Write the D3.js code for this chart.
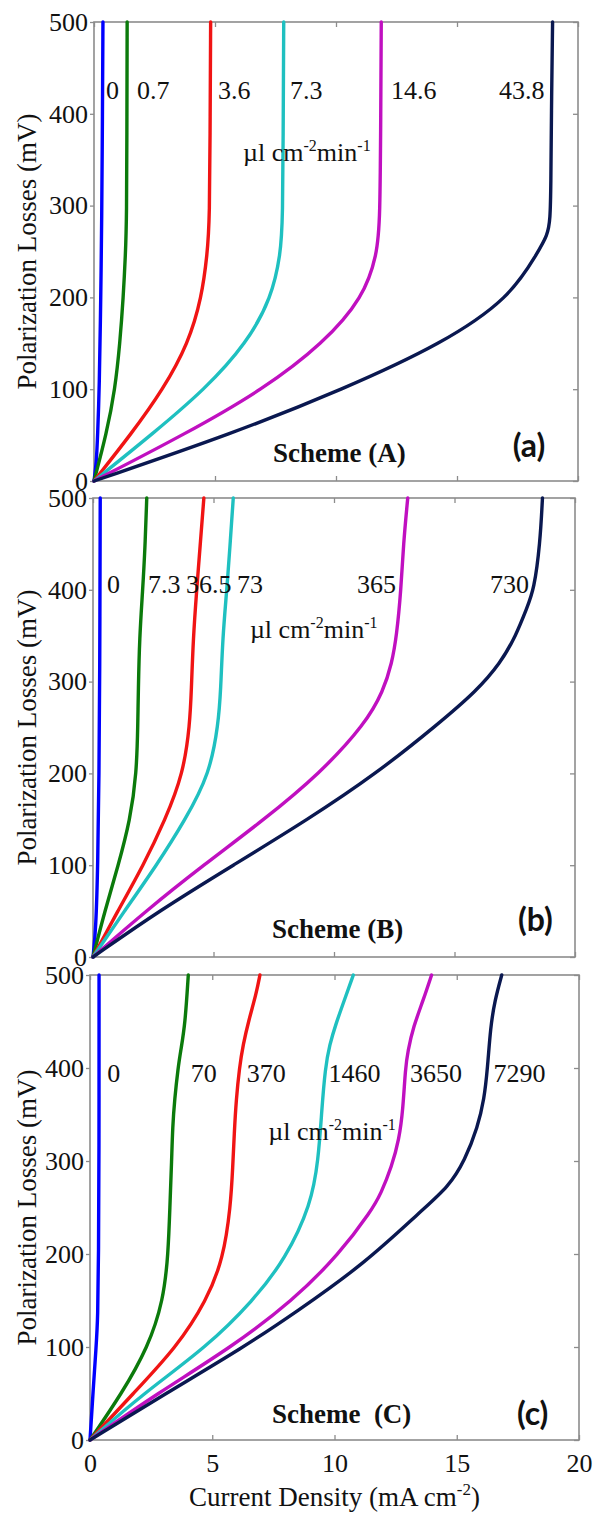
<!DOCTYPE html>
<html><head><meta charset="utf-8">
<script src="https://cdn.jsdelivr.net/npm/d3@7"></script>
<style>
body{margin:0;background:#fff}
svg{display:block}
text{font-family:"Liberation Serif","Times New Roman",serif;fill:#111}
</style>
</head><body>
<svg id="chart" width="595" height="1513"></svg>
<script>
// ---------- data ----------
const xTicks = [0, 5, 10, 15, 20];
const yTicks = [0, 100, 200, 300, 400, 500];

// each point: [current density (mA cm-2), polarization loss (mV)]
// Scheme A
const aBlue    = [[0,0],[0.1,20],[0.15,50],[0.22,100],[0.28,200],[0.32,284],[0.35,400],[0.37,500]];
const aGreen   = [[0,0],[0.52,52],[0.87,100],[1.07,150],[1.21,200],[1.3,247],[1.35,284],[1.36,400],[1.37,500]];
const aRed     = [[0,0],[1.56,52],[2.86,100],[3.9,150],[4.45,200],[4.68,247],[4.78,284],[4.8,400],[4.82,500]];
const aCyan    = [[0,0],[2.45,52],[4.59,100],[6.31,150],[7.34,200],[7.71,247],[7.8,284],[7.82,400],[7.84,500]];
const aMagenta = [[0,0],[3.83,52],[7.0,100],[9.48,150],[11.13,200],[11.7,247],[11.82,284],[11.85,400],[11.87,500]];
const aNavy    = [[0,0],[5.76,52],[10.3,100],[14.43,150],[17.19,200],[18.29,247],[18.75,268],[18.85,285],[18.88,320],[18.9,400],[18.95,500]];
// Scheme B
const bBlue    = [[0,0],[0.12,30],[0.2,100],[0.25,200],[0.28,300],[0.3,500]];
const bGreen   = [[0,0],[0.5,51],[1.05,100],[1.54,149],[1.81,200],[1.86,254],[1.88,290],[1.93,348],[2.06,399],[2.16,446],[2.23,500]];
const bRed     = [[0,0],[1.05,51],[2.09,100],[2.99,149],[3.75,200],[4.02,254],[4.08,290],[4.16,348],[4.3,399],[4.44,446],[4.6,500]];
const bCyan    = [[0,0],[1.33,51],[2.64,100],[3.82,149],[4.85,200],[5.2,254],[5.3,290],[5.38,348],[5.55,399],[5.68,446],[5.82,500]];
const bMagenta = [[0,0],[2.23,51],[4.58,100],[7.07,149],[9.42,200],[11.3,254],[12.05,290],[12.4,320],[12.6,350],[12.78,400],[12.88,450],[13.06,500]];
const bNavy    = [[0,0],[2.78,51],[5.82,100],[8.87,149],[11.77,200],[14.33,254],[15.92,290],[16.9,320],[17.55,350],[18.0,380],[18.3,400],[18.55,450],[18.65,500]];
// Scheme C
const cBlue    = [[0,0],[0.05,20],[0.12,50],[0.25,100],[0.32,130],[0.35,200],[0.37,300],[0.37,500]];
const cGreen   = [[0,0],[1.3,50],[2.38,100],[3.0,150],[3.2,200],[3.27,253],[3.34,301],[3.38,337],[3.46,366],[3.6,400],[3.72,420],[3.89,447],[4.02,500]];
const cRed     = [[0,0],[1.77,50],[3.55,100],[4.77,150],[5.45,195],[5.75,251],[5.84,294],[5.9,330],[5.98,366],[6.11,400],[6.26,425],[6.5,452],[6.8,480],[6.95,500]];
const cCyan    = [[0,0],[2.18,50],[4.77,100],[6.68,150],[8.0,195],[9.04,253],[9.34,301],[9.48,355],[9.62,400],[9.8,425],[10.05,447],[10.43,475],[10.77,500]];
const cMagenta = [[0,0],[2.75,50],[5.8,100],[8.3,150],[10.2,200],[11.52,247],[11.9,265],[12.34,294],[12.64,323],[12.8,355],[12.9,400],[13.0,418],[13.22,444],[13.63,473],[13.97,500]];
const cNavy    = [[0,0],[3.1,50],[6.3,100],[8.4,137],[11.25,190],[13.57,247],[14.66,272],[15.34,301],[15.86,337],[16.12,366],[16.26,400],[16.38,444],[16.56,473],[16.84,500]];

const labelsA = ["0", "0.7", "3.6", "7.3", "14.6", "43.8"];
const labelsB = ["0", "7.3", "36.5", "73", "365", "730"];
const labelsC = ["0", "70", "370", "1460", "3650", "7290"];

const schemeNames = ["Scheme (A)", "Scheme (B)", "Scheme  (C)"];
const panelLetters = ["(a)", "(b)", "(c)"];
const yTitle = "Polarization Losses (mV)";

// ---------- styles & layout ----------
const colors = ["#0000ff", "#0b7a0b", "#f01414", "#1fc0c0", "#c010c0", "#0a1850"];
const panels = [
  {box:{l:94,r:578,t:22,b:481}, series:[aBlue,aGreen,aRed,aCyan,aMagenta,aNavy], labels:labelsA,
   labelX:[0.5,1.78,5.12,8.1,12.27,16.74], labelMV:416, unitX:6.16, unitMV:349,
   schemeX:7.4, schemeMV:21, letterX:17.3, letterMV:26, xLabels:false},
  {box:{l:93,r:575,t:498,b:957}, series:[bBlue,bGreen,bRed,bCyan,bMagenta,bNavy], labels:labelsB,
   labelX:[0.58,2.28,3.86,5.98,10.95,16.47], labelMV:397, unitX:6.51, unitMV:348,
   schemeX:7.43, schemeMV:20.6, letterX:17.63, letterMV:28, xLabels:false},
  {box:{l:90,r:579,t:975,b:1440}, series:[cBlue,cGreen,cRed,cCyan,cMagenta,cNavy], labels:labelsC,
   labelX:[0.71,4.12,6.41,9.75,13.09,16.5], labelMV:385, unitX:7.29, unitMV:322.6,
   schemeX:7.44, schemeMV:18.3, letterX:17.46, letterMV:16, xLabels:true}
];

const svg = d3.select("#chart");

panels.forEach((p, i) => {
  const x = d3.scaleLinear().domain([0, 20]).range([p.box.l, p.box.r]);
  const y = d3.scaleLinear().domain([0, 500]).range([p.box.b, p.box.t]);
  const g = svg.append("g");

  // frame
  g.append("rect").attr("x", p.box.l).attr("y", p.box.t)
    .attr("width", p.box.r - p.box.l).attr("height", p.box.b - p.box.t)
    .attr("fill", "none").attr("stroke", "#8c8c8c").attr("stroke-width", 1.6);

  const styleAxis = sel => {
    sel.select(".domain").remove();
    sel.selectAll(".tick line").attr("stroke", "#8c8c8c").attr("stroke-width", 1.3);
    sel.selectAll(".tick text").attr("font-family", '"Liberation Serif", serif')
      .attr("font-size", 26).attr("fill", "#111");
  };

  g.append("g").attr("transform", `translate(${p.box.l},0)`)
    .call(d3.axisLeft(y).tickValues(yTicks).tickSize(4).tickSizeOuter(0).tickPadding(2))
    .call(styleAxis);
  g.append("g").attr("transform", `translate(${p.box.r},0)`)
    .call(d3.axisRight(y).tickValues(yTicks).tickSize(-5).tickSizeOuter(0).tickFormat(""))
    .call(styleAxis);
  g.append("g").attr("transform", `translate(0,${p.box.t})`)
    .call(d3.axisTop(x).tickValues(xTicks).tickSize(-5).tickSizeOuter(0).tickFormat(""))
    .call(styleAxis);
  const bAx = d3.axisBottom(x).tickValues(xTicks).tickSize(-5).tickSizeOuter(0).tickPadding(14);
  if (!p.xLabels) bAx.tickFormat("");
  g.append("g").attr("transform", `translate(0,${p.box.b})`).call(bAx).call(styleAxis);

  // curves
  const line = d3.line().x(d => x(d[0])).y(d => y(d[1])).curve(d3.curveBasis);
  g.selectAll("path.curve").data(p.series).join("path").attr("class", "curve")
    .attr("d", line).attr("fill", "none")
    .attr("stroke", (d, k) => colors[k]).attr("stroke-width", 3.4)
    .attr("stroke-linejoin", "round").attr("stroke-linecap", "round");

  // curve labels
  g.selectAll("text.lbl").data(p.labels).join("text").attr("class", "lbl")
    .attr("x", (d, k) => x(p.labelX[k])).attr("y", y(p.labelMV))
    .attr("font-size", 26).text(d => d);

  // unit label
  const u = g.append("text").attr("x", x(p.unitX)).attr("y", y(p.unitMV)).attr("font-size", 26);
  u.append("tspan").text("\u00b5l cm");
  u.append("tspan").attr("font-size", 16).attr("dy", -10).text("-2");
  u.append("tspan").attr("dy", 10).text("min");
  u.append("tspan").attr("font-size", 16).attr("dy", -10).text("-1");

  // scheme label
  g.append("text").attr("x", x(p.schemeX)).attr("y", y(p.schemeMV))
    .attr("font-size", 27).attr("font-weight", "bold")
    .style("white-space", "pre").text(schemeNames[i]);

  // panel letter
  g.append("text").attr("x", x(p.letterX)).attr("y", y(p.letterMV))
    .attr("font-size", 32).attr("font-weight", "bold")
    .style("font-family", "Lato, 'Open Sans', sans-serif").text(panelLetters[i]);

  // y title
  g.append("text")
    .attr("transform", `translate(36,${(p.box.t + p.box.b) / 2}) rotate(-90)`)
    .attr("text-anchor", "middle").attr("font-size", 27).text(yTitle);

  if (p.xLabels) {
    const t = g.append("text").attr("x", (p.box.l + p.box.r) / 2).attr("y", 1506)
      .attr("text-anchor", "middle").attr("font-size", 27);
    t.append("tspan").text("Current Density (mA cm");
    t.append("tspan").attr("font-size", 17).attr("dy", -11).text("-2");
    t.append("tspan").attr("dy", 11).text(")");
  }
});
</script>
</body></html>
